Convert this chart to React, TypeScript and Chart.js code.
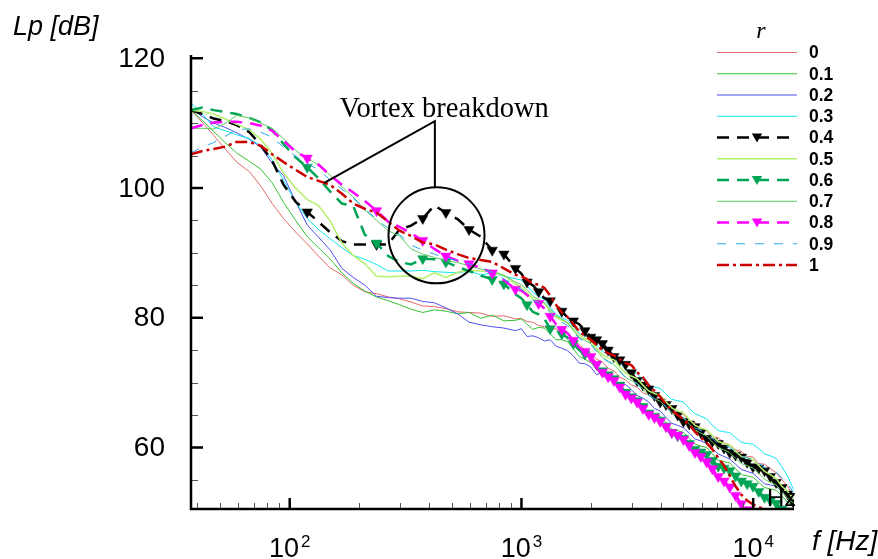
import React, { useEffect, useRef } from "react";
import { Chart, registerables } from "chart.js";
Chart.register(...registerables);

// Frequency grid [Hz]
const FREQ = [37.5, 42, 47, 53, 59, 67, 75, 84, 94, 106, 119, 133, 149, 168, 188, 211, 237, 266, 298, 334, 375, 421, 472, 530, 594, 667, 748, 840,
  942, 998, 1057, 1119, 1186, 1256, 1331, 1409, 1493, 1581, 1675, 1774, 1879, 1991, 2109, 2234, 2366, 2506, 2655, 2812, 2979, 3155, 3342, 3540,
  3750, 3972, 4207, 4457, 4721, 5000, 5297, 5610, 5943, 6295, 6668, 7063, 7482, 7925, 8395, 8892, 9419, 9977, 10568, 11194, 11858, 12560, 13305, 14093, 14928];

// Lp [dB] per r
const LP_R00 = [112.0, 110.1, 108.1, 105.9, 104.0, 102.5, 100.3, 97.6, 95.3, 93.2, 91.4, 89.5, 87.7, 86.6, 85.0, 84.0, 83.7, 83.2, 82.9, 82.4, 81.8, 81.7, 81.4, 80.9, 80.8, 80.7, 80.2, 80.3,
  79.8, 79.9, 79.4, 79.3, 78.8, 78.6, 78.2, 78.3, 77.8, 77.0, 76.4, 75.9, 75.0, 74.5, 73.6, 73.2, 72.2, 71.8, 70.8, 70.4, 69.6, 69.3, 68.4, 68.1, 67.4, 67.6, 66.4, 66.2, 65.4, 65.0, 64.2, 63.8, 63.0, 62.5, 61.6, 61.5, 60.7, 60.4, 59.6, 59.4, 58.6, 58.5, 57.5, 57.4, 56.7, 56.1, 55.0, 54.0, 52.5];
const LP_R01 = [112.0, 110.4, 108.7, 106.9, 105.4, 104.1, 102.9, 100.8, 97.8, 95.0, 92.5, 90.8, 89.1, 86.9, 85.3, 84.1, 83.2, 82.6, 82.0, 81.3, 80.8, 81.2, 81.0, 80.6, 80.8, 79.9, 80.4, 79.5,
  79.6, 79.8, 79.0, 78.2, 78.5, 78.4, 77.5, 76.6, 76.6, 76.3, 75.2, 74.0, 73.6, 73.1, 72.0, 71.0, 70.6, 70.2, 69.0, 67.9, 67.7, 67.5, 66.3, 65.4, 65.0, 64.8, 63.8, 62.8, 62.6, 62.3, 61.4, 60.5, 60.2, 60.0, 59.0, 58.0, 57.8, 57.6, 56.7, 55.8, 55.6, 55.4, 54.6, 53.8, 53.6, 53.4, 52.5, 51.5, 51.0];
const LP_R02 = [112.2, 111.0, 110.0, 109.3, 108.5, 107.5, 106.3, 103.8, 101.9, 97.9, 94.3, 92.4, 90.5, 87.6, 86.2, 85.0, 83.3, 83.1, 83.0, 83.0, 82.5, 82.3, 81.5, 80.6, 79.3, 78.9, 78.6, 78.4,
  78.0, 78.3, 77.1, 77.2, 76.9, 76.4, 76.6, 75.6, 75.3, 74.9, 74.1, 73.0, 72.9, 72.4, 71.2, 71.6, 70.7, 70.1, 70.0, 69.7, 68.9, 68.0, 67.6, 67.0, 66.0, 65.6, 64.6, 63.7, 63.4, 63.0, 62.2, 61.3, 61.0, 60.6, 59.8, 59.0, 58.6, 58.2, 57.4, 56.6, 56.3, 56.0, 55.2, 54.4, 54.2, 54.0, 53.3, 52.8, 52.0];
const LP_R03 = [113.1, 111.4, 109.4, 108.8, 108.2, 107.6, 106.5, 104.3, 101.2, 97.8, 95.3, 93.6, 92.2, 90.8, 89.6, 89.0, 88.2, 87.2, 87.2, 87.2, 87.3, 87.1, 87.0, 86.9, 87.2, 86.6, 86.9, 86.4,
  86.0, 85.8, 84.9, 83.9, 83.3, 82.8, 81.6, 80.5, 80.0, 79.6, 78.6, 77.6, 77.2, 76.8, 75.8, 74.8, 74.3, 73.9, 73.0, 72.1, 71.8, 71.4, 70.4, 69.6, 69.3, 69.1, 68.2, 67.4, 67.2, 67.0, 66.0, 65.2, 64.8, 64.4, 63.4, 62.6, 62.4, 62.3, 61.5, 60.8, 60.6, 60.5, 59.8, 59.0, 58.7, 58.3, 57.0, 55.5, 53.5];
const LP_R04 = [112.0, 111.4, 110.7, 110.3, 109.7, 108.6, 106.6, 104.2, 100.5, 97.9, 96.3, 94.8, 93.2, 91.8, 91.3, 91.3, 91.3, 91.3, 93.6, 94.2, 95.3, 97.3, 96.2, 95.2, 93.6, 92.5, 90.4, 89.8,
  87.6, 86.8, 85.5, 85.0, 84.0, 83.0, 82.6, 82.1, 81.0, 80.0, 79.5, 79.0, 78.0, 77.0, 76.6, 76.0, 75.0, 74.0, 73.5, 72.8, 71.5, 70.3, 69.6, 69.0, 68.0, 67.0, 66.6, 66.0, 65.0, 64.0, 63.6, 63.2, 62.3, 61.4, 60.9, 60.6, 59.9, 59.2, 58.8, 58.5, 57.7, 57.0, 56.8, 56.4, 55.5, 54.6, 53.8, 52.8, 51.5];
const LP_R05 = [112.0, 111.8, 111.4, 110.6, 109.8, 109.0, 107.5, 105.3, 102.3, 100.0, 98.2, 97.3, 95.0, 91.5, 89.6, 88.3, 86.4, 86.3, 86.4, 86.4, 86.0, 86.9, 86.2, 87.0, 87.3, 87.2, 87.0, 86.5,
  85.2, 84.7, 83.8, 82.9, 82.6, 82.2, 81.0, 80.1, 79.6, 79.2, 78.2, 77.3, 76.8, 76.4, 75.3, 74.3, 73.8, 73.5, 72.4, 71.5, 71.0, 70.6, 69.6, 68.7, 68.3, 68.0, 67.0, 66.1, 65.6, 65.3, 64.3, 63.4, 63.0, 62.7, 61.8, 60.9, 60.6, 60.3, 59.4, 58.6, 58.4, 58.1, 57.2, 56.3, 55.8, 55.2, 54.0, 53.2, 52.0];
const LP_R06 = [112.0, 112.4, 112.0, 111.7, 111.4, 110.8, 110.1, 108.9, 106.8, 104.7, 103.2, 101.5, 99.5, 97.6, 97.2, 92.8, 91.5, 89.5, 88.6, 88.2, 89.1, 89.0, 88.6, 87.8, 87.2, 86.5, 85.9, 85.2,
  83.6, 83.0, 82.0, 80.9, 80.5, 79.8, 78.3, 77.6, 77.5, 76.9, 76.0, 75.0, 74.4, 73.8, 72.8, 71.8, 71.2, 70.6, 69.6, 68.5, 67.8, 67.2, 66.3, 65.3, 64.8, 64.2, 63.3, 62.3, 61.8, 61.4, 60.6, 59.7, 59.3, 58.9, 58.0, 57.1, 56.8, 56.4, 55.6, 54.8, 54.4, 54.0, 53.2, 52.3, 51.8, 51.4, 50.5, 50.2, 50.0];
const LP_R07 = [109.2, 109.2, 109.1, 110.0, 111.2, 110.8, 110.0, 109.2, 107.6, 105.8, 104.5, 103.6, 102.0, 100.2, 98.6, 96.6, 95.0, 93.4, 92.6, 90.6, 89.8, 89.3, 88.8, 88.5, 88.0, 87.5, 87.3, 86.5,
  85.5, 85.1, 84.3, 83.3, 82.8, 82.3, 81.3, 80.3, 79.8, 79.2, 78.0, 77.0, 76.5, 76.0, 75.0, 73.9, 73.3, 72.8, 71.8, 70.8, 70.3, 69.9, 69.0, 68.0, 67.5, 67.1, 66.2, 65.3, 64.9, 64.5, 63.6, 62.7, 62.2, 61.8, 60.8, 60.0, 59.6, 59.2, 58.3, 57.5, 57.2, 56.8, 56.0, 55.1, 54.6, 54.2, 53.2, 52.1, 51.4];
const LP_R08 = [109.2, 109.7, 110.1, 110.2, 110.2, 110.0, 109.6, 108.8, 107.3, 105.6, 104.6, 103.6, 102.0, 100.5, 99.3, 98.0, 96.5, 94.8, 94.0, 93.0, 91.9, 90.6, 89.5, 88.8, 88.3, 87.7, 86.9, 85.8,
  84.4, 84.2, 83.5, 82.6, 82.2, 81.4, 80.2, 79.0, 78.2, 77.6, 76.5, 75.4, 74.8, 74.0, 72.8, 71.6, 70.9, 70.3, 69.3, 68.2, 67.6, 67.0, 66.0, 65.1, 64.6, 64.0, 63.2, 62.3, 61.9, 61.2, 60.3, 59.2, 58.6, 57.8, 56.7, 55.5, 54.8, 53.9, 52.6, 51.3, 50.4, 49.9, 49.5, 49.2, 49.0, 48.8, 48.5, 48.2, 48.0];
const LP_R09 = [105.4, 106.3, 107.0, 108.0, 109.0, 109.1, 108.6, 107.8, 106.3, 104.9, 103.8, 102.8, 101.3, 99.8, 98.4, 96.8, 95.2, 93.8, 92.8, 91.2, 90.4, 89.8, 89.2, 88.8, 88.3, 87.6, 87.0, 86.0,
  84.8, 84.4, 83.6, 82.7, 82.3, 81.8, 80.8, 79.9, 79.3, 78.8, 77.8, 76.8, 76.3, 75.8, 74.8, 73.8, 73.2, 72.7, 71.7, 70.8, 70.3, 69.8, 68.8, 68.0, 67.5, 67.1, 66.3, 65.4, 65.0, 64.6, 63.8, 63.0, 62.6, 62.2, 61.4, 60.6, 60.3, 60.0, 59.3, 58.6, 58.4, 58.2, 57.6, 56.9, 56.6, 56.2, 55.3, 54.4, 53.0];
const LP_R10 = [105.2, 105.7, 106.0, 106.4, 107.1, 107.1, 106.5, 105.2, 104.0, 102.8, 101.7, 101.1, 100.5, 99.1, 97.6, 96.8, 96.2, 94.8, 93.4, 92.6, 91.6, 91.3, 90.5, 89.8, 89.2, 88.9, 88.6, 87.6,
  86.6, 86.4, 85.9, 85.2, 85.1, 84.6, 83.4, 82.0, 80.8, 80.1, 79.0, 77.9, 77.2, 76.6, 75.8, 75.0, 74.5, 74.2, 73.6, 73.0, 72.7, 71.6, 70.8, 69.6, 68.7, 67.8, 66.6, 65.7, 65.0, 64.3, 63.5, 62.4, 61.5, 60.7, 59.7, 58.4, 57.2, 55.6, 54.0, 52.7, 51.8, 51.2, 50.8, 50.4, 50.0, 49.8, 49.5, 49.2, 49.0];

const R_LABELS = ["0", "0.1", "0.2", "0.3", "0.4", "0.5", "0.6", "0.7", "0.8", "0.9", "1"];
const R_VALUES = [LP_R00, LP_R01, LP_R02, LP_R03, LP_R04, LP_R05, LP_R06, LP_R07, LP_R08, LP_R09, LP_R10];

// ticks
const Y_MAJOR = [60, 80, 100, 120];
const Y_MINOR = [55, 65, 70, 75, 85, 90, 95, 105, 110, 115];
const X_MAJOR = [100, 1000, 10000];
const X_MAJOR_EXP = ["2", "3", "4"];
const X_MINOR = [40, 50, 60, 70, 80, 90, 200, 300, 400, 500, 600, 700, 800, 900, 2000, 3000, 4000, 5000, 6000, 7000, 8000, 9000];

// marker indices (sparse part + dense start)
const MARK_04 = [10, 16, 20, 22, 24, 26, 27, 28, 30, 32, 34, 36, 38];
const MARK_06 = [10, 16, 20, 22, 26, 27, 30, 34, 36, 38, 40];
const MARK_08 = [10, 16, 20, 22, 24, 26, 28, 32, 34, 36, 38];
const DENSE_04 = 40;
const DENSE_06 = 42;
const DENSE_08 = 40;

type Style = { color: string; width: number; dash: number[]; marks?: number[]; dense?: number };
const STYLES: Style[] = [
  { color: "#e56868", width: 1, dash: [] },
  { color: "#30c430", width: 1, dash: [] },
  { color: "#4f4fef", width: 1, dash: [] },
  { color: "#10e6f2", width: 1, dash: [] },
  { color: "#000000", width: 2.5, dash: [12, 8], marks: MARK_04, dense: DENSE_04 },
  { color: "#b4f06a", width: 1.5, dash: [] },
  { color: "#00a455", width: 2.5, dash: [12, 8], marks: MARK_06, dense: DENSE_06 },
  { color: "#5ccc5c", width: 1, dash: [] },
  { color: "#ff00ff", width: 2.5, dash: [12, 8], marks: MARK_08, dense: DENSE_08 },
  { color: "#2aa8ec", width: 1, dash: [9, 10] },
  { color: "#cc0000", width: 2.5, dash: [12, 4, 3, 4] },
];

// annotation anchors in data coordinates
const ANN_TEXT = { f: 164, v: 110.9 };
const ANN_APEX = { f: 423, v: 110.3 };
const ANN_LEFT = { f: 141, v: 100.8 };
const ANN_CIRCLE = { f: 430, v: 92.7 };
const HZ_TEXT = { f: 11470, v: 50.9 };

const MARKER_R = 6;
const SANS = "'Liberation Sans', Arial, Helvetica, sans-serif";
const SERIF = "'Liberation Serif', 'Times New Roman', serif";

function downTriangle(ctx: CanvasRenderingContext2D, x: number, y: number, r: number, color: string) {
  const s = Math.sin(Math.PI / 3) * r;
  ctx.beginPath();
  ctx.moveTo(x, y + r);
  ctx.lineTo(x - s, y - r / 2);
  ctx.lineTo(x + s, y - r / 2);
  ctx.closePath();
  ctx.fillStyle = color;
  ctx.fill();
}

const axesPlugin = {
  id: "customAxes",
  afterDatasetsDraw(chart: any) {
    const { ctx, chartArea: a, scales } = chart;
    const x = scales.x;
    const y = scales.y;
    ctx.save();
    ctx.setLineDash([]);
    // minor ticks
    ctx.strokeStyle = "#555";
    ctx.lineWidth = 1;
    ctx.beginPath();
    Y_MINOR.forEach((v) => {
      const py = Math.round(y.getPixelForValue(v)) + 0.5;
      ctx.moveTo(a.left, py);
      ctx.lineTo(a.left + 7, py);
    });
    X_MINOR.forEach((f) => {
      const px = Math.round(x.getPixelForValue(f)) + 0.5;
      ctx.moveTo(px, a.bottom);
      ctx.lineTo(px, a.bottom - 6);
    });
    ctx.stroke();
    // major ticks
    ctx.strokeStyle = "#000";
    ctx.lineWidth = 2.5;
    ctx.beginPath();
    Y_MAJOR.forEach((v) => {
      const py = y.getPixelForValue(v);
      ctx.moveTo(a.left, py);
      ctx.lineTo(a.left + 12, py);
    });
    X_MAJOR.forEach((f) => {
      const px = x.getPixelForValue(f);
      ctx.moveTo(px, a.bottom);
      ctx.lineTo(px, a.bottom - 11);
    });
    ctx.stroke();
    // axis lines
    ctx.lineWidth = 2.5;
    ctx.beginPath();
    ctx.moveTo(a.left, a.top);
    ctx.lineTo(a.left, a.bottom);
    ctx.lineTo(a.right, a.bottom);
    ctx.stroke();

    // y tick labels
    ctx.fillStyle = "#000";
    ctx.font = `28px ${SANS}`;
    ctx.textAlign = "right";
    ctx.textBaseline = "middle";
    Y_MAJOR.forEach((v) => {
      ctx.fillText(String(v), a.left - 26, y.getPixelForValue(v) + 1);
    });
    // x tick labels 10^n
    ctx.textAlign = "left";
    ctx.textBaseline = "alphabetic";
    X_MAJOR.forEach((f, i) => {
      ctx.font = `27px ${SANS}`;
      const w1 = ctx.measureText("10").width;
      ctx.font = `17px ${SANS}`;
      const w2 = ctx.measureText(X_MAJOR_EXP[i]).width;
      const total = w1 + 2 + w2;
      const px = x.getPixelForValue(f);
      const start = px - total / 2;
      ctx.font = `27px ${SANS}`;
      ctx.fillText("10", start, 557);
      ctx.font = `17px ${SANS}`;
      ctx.fillText(X_MAJOR_EXP[i], start + w1 + 2, 547);
    });

    // axis titles
    ctx.font = `italic 27px ${SANS}`;
    ctx.fillText("Lp [dB]", 13, 35);
    ctx.font = `italic 28px ${SANS}`;
    ctx.fillText("f [Hz]", 812, 550);

    // stray "Hz"
    ctx.font = `24px ${SANS}`;
    ctx.fillText("Hz", x.getPixelForValue(HZ_TEXT.f), y.getPixelForValue(HZ_TEXT.v));

    // annotation
    ctx.font = `28.5px ${SERIF}`;
    ctx.fillText("Vortex breakdown", x.getPixelForValue(ANN_TEXT.f), y.getPixelForValue(ANN_TEXT.v));
    const ax = x.getPixelForValue(ANN_APEX.f);
    const ay = y.getPixelForValue(ANN_APEX.v);
    const cx = x.getPixelForValue(ANN_CIRCLE.f);
    const cy = y.getPixelForValue(ANN_CIRCLE.v);
    const cr = 48;
    ctx.strokeStyle = "#000";
    ctx.lineWidth = 2;
    ctx.beginPath();
    ctx.moveTo(x.getPixelForValue(ANN_LEFT.f), y.getPixelForValue(ANN_LEFT.v));
    ctx.lineTo(ax, ay);
    ctx.lineTo(ax, cy - Math.sqrt(Math.max(0, cr * cr - (ax - cx) * (ax - cx))));
    ctx.stroke();
    ctx.beginPath();
    ctx.arc(cx, cy, cr, 0, Math.PI * 2);
    ctx.stroke();

    // legend
    ctx.font = `italic 24px ${SERIF}`;
    ctx.textAlign = "center";
    ctx.fillText("r", 761, 38);
    const x0 = 717;
    const x1 = 797;
    STYLES.forEach((s, i) => {
      const ly = 52.5 + i * 21.25;
      ctx.strokeStyle = s.color;
      ctx.lineWidth = s.width;
      ctx.setLineDash(s.dash);
      ctx.beginPath();
      ctx.moveTo(x0, ly);
      ctx.lineTo(x1, ly);
      ctx.stroke();
      ctx.setLineDash([]);
      if (s.marks) downTriangle(ctx, 757, ly - 1, MARKER_R, s.color);
      ctx.fillStyle = "#000";
      ctx.font = `bold 17.5px ${SANS}`;
      ctx.textAlign = "left";
      ctx.textBaseline = "middle";
      ctx.fillText(R_LABELS[i], 809, ly + 1);
    });
    ctx.restore();
  },
};

export default function App() {
  const ref = useRef<HTMLCanvasElement>(null);
  useEffect(() => {
    if (!ref.current) return;
    const datasets = R_VALUES.map((vals, i) => {
      const s = STYLES[i];
      const markSet = new Set<number>(s.marks || []);
      const radius = FREQ.map((_, k) =>
        s.marks && (markSet.has(k) || (s.dense !== undefined && k >= s.dense)) ? MARKER_R : 0
      );
      return {
        label: R_LABELS[i],
        data: FREQ.map((f, k) => ({ x: f, y: vals[k] })),
        borderColor: s.color,
        backgroundColor: s.color,
        borderWidth: s.width,
        borderDash: s.dash,
        pointStyle: "triangle" as const,
        pointRotation: 180,
        pointRadius: radius,
        pointBorderWidth: 0.5,
        pointHoverRadius: 0,
        tension: 0,
        fill: false,
        order: -i,
      };
    });
    const chart = new Chart(ref.current, {
      type: "line",
      data: { datasets },
      options: {
        responsive: false,
        animation: false,
        events: [],
        layout: { padding: { left: 191, right: 84, top: 55, bottom: 50 } },
        scales: {
          x: { type: "logarithmic", min: 37.5, max: 15000, display: false },
          y: { type: "linear", min: 50.5, max: 120.5, display: false },
        },
        plugins: { legend: { display: false }, tooltip: { enabled: false } },
      },
      plugins: [axesPlugin],
    });
    return () => chart.destroy();
  }, []);
  return (
    <div style={{ position: "absolute", left: 0, top: 0, width: 878, height: 559, background: "#fff" }}>
      <canvas ref={ref} width={878} height={559} style={{ display: "block" }} />
    </div>
  );
}
